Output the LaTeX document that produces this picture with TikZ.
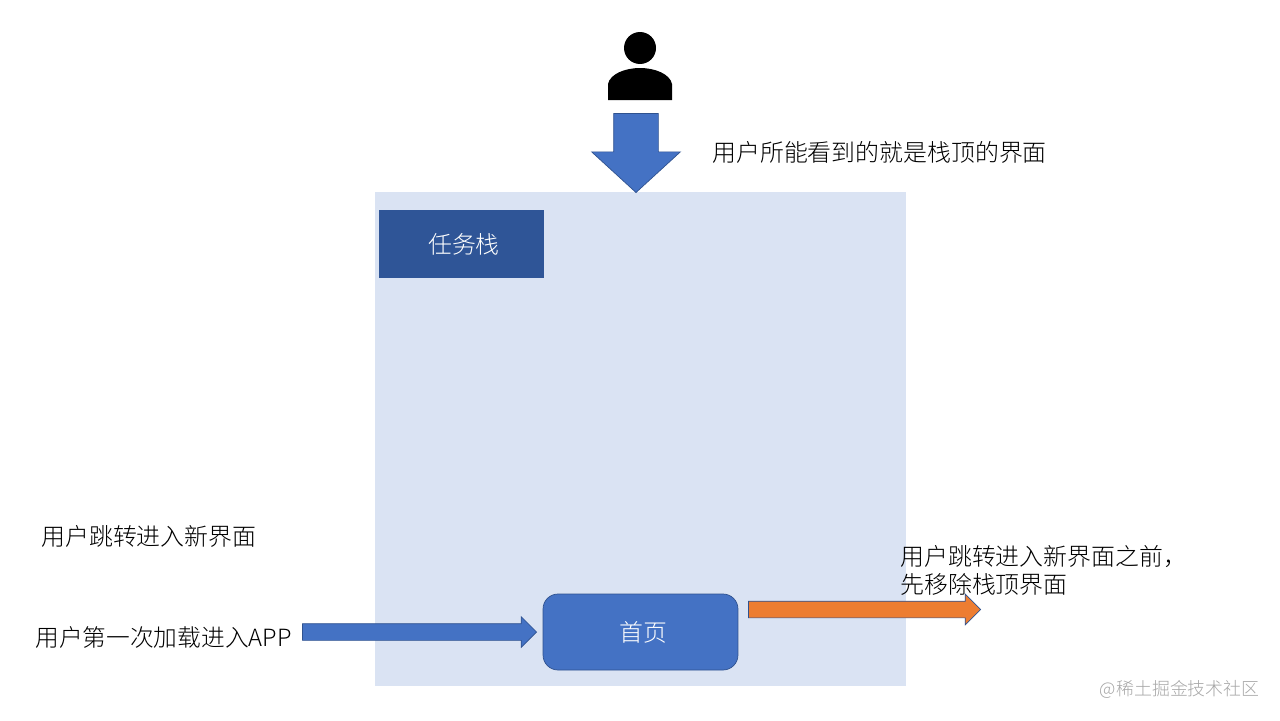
\documentclass[tikz,border=0pt]{standalone}
\usepackage{fontspec}
\setmainfont{Noto Sans CJK SC Light}
\usepackage{tikz}
\usetikzlibrary{arrows,calc,shapes.arrows,positioning}
\definecolor{stackblue}{HTML}{DAE3F3}
\definecolor{darkblue}{HTML}{2F5597}
\definecolor{midblue}{HTML}{4472C4}
\definecolor{edgeblue}{HTML}{2F528F}
\definecolor{orangefill}{HTML}{ED7D31}

\begin{document}
\begin{tikzpicture}[
x=0.02cm,y=-0.02cm,
every node/.style={font=\fontsize{13.6pt}{15.9pt}\selectfont},
label/.style={anchor=west,inner sep=0pt,align=left},
page/.style={rounded corners=0.3cm,fill=midblue,draw=edgeblue,text=white,minimum width=3.9cm,minimum height=1.52cm,inner sep=0pt},
blockarrow/.style={single arrow,draw=edgeblue,inner sep=0pt,single arrow head indent=0pt,anchor=tip},
thinarrow/.style={blockarrow,text height=0.32cm,text depth=0pt,single arrow head extend=0.14cm},]
\useasboundingbox (0,0) rectangle (1280,720);
\node[fill=stackblue,minimum width=10.62cm,minimum height=9.88cm,inner sep=0pt] (stack) at (640.5,439) {};
\node[fill=darkblue,text=white,minimum width=3.3cm,minimum height=1.36cm,inner sep=0pt] (stacklabel) at (461.5,244) {\hspace{0.1cm}任务栈};
\node[page] (home) at (640.5,632) {\hspace{0.1cm}首页};
\node[circle,fill=black,minimum size=0.64cm,inner sep=0pt] (head) at (640,48) {};
\fill[black] (608,100) -- (608,84) .. controls (610,74) and (625,68) .. (640,68) .. controls (655,68) and (670,74) .. (672,84) -- (672,100) -- cycle;
\node[blockarrow,fill=midblue,rotate=270,minimum height=1.58cm,text height=0.88cm,text depth=0pt,single arrow head extend=0.44cm,single arrow tip angle=95] (viewarrow) at (636,193) {};
\node[thinarrow,fill=midblue,minimum height=4.68cm] (enterarrow) at (537,632) {};
\node[thinarrow,fill=orangefill,minimum height=4.64cm] (removearrow) at (981,609.5) {};
\node[label] (viewtext) at (712,152) {用户所能看到的就是栈顶的界面};
\node[label] (jumptext) at (41,536) {用户跳转进入新界面};
\node[label,font=\fontsize{13.5pt}{15.9pt}\selectfont] (firsttext) at (35,637) {用户第一次加载进入APP};
\node[label] (removetext) at (900,570) {用户跳转进入新界面之前，\\先移除栈顶界面};
\node[anchor=east,inner sep=0pt,text=black!35,font=\fontsize{10.2pt}{12pt}\selectfont] (mark) at (1260,689) {@稀土掘金技术社区};
\end{tikzpicture}
\end{document}
